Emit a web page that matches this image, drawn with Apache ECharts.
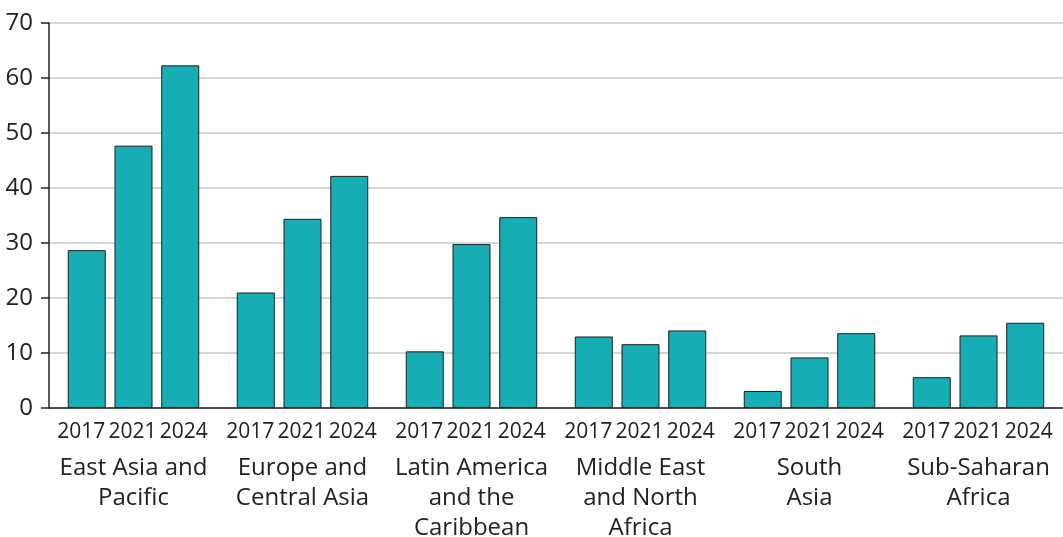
<!DOCTYPE html>
<html>
<head>
<meta charset="utf-8">
<script src="https://cdn.jsdelivr.net/npm/echarts@6/dist/echarts.min.js"></script>
<style>
  html, body { margin: 0; padding: 0; background: #fff; }
  #chart { width: 1063px; height: 537px; }
</style>
</head>
<body>
<div id="chart"></div>
<script>
const years = ['2017', '2021', '2024'];
const regions = [
  'East Asia and\nPacific',
  'Europe and\nCentral Asia',
  'Latin America\nand the\nCaribbean',
  'Middle East\nand North\nAfrica',
  'South\nAsia',
  'Sub-Saharan\nAfrica'
];
const values2017 = [28.7, 21.0, 10.3, 13.0, 3.1, 5.6];
const values2021 = [47.7, 34.4, 29.8, 11.6, 9.2, 13.2];
const values2024 = [62.3, 42.2, 34.7, 14.1, 13.6, 15.5];
const yTicks = [0, 10, 20, 30, 40, 50, 60, 70];

const seriesValues = [values2017, values2021, values2024];
const labelOffsets = [-5.5, -1, 3.5];
const FONT = '"Open Sans", "Noto Sans", sans-serif';
const TEXT = '#222';

const chart = echarts.init(document.getElementById('chart'), null, { renderer: 'canvas' });
chart.setOption({
  animation: false,
  backgroundColor: '#fff',
  textStyle: { fontFamily: FONT, color: TEXT },
  grid: { left: 49, right: 0, top: 23, bottom: 129, containLabel: false, outerBoundsMode: 'none' },
  xAxis: {
    type: 'category',
    data: regions,
    axisLine: { show: true, lineStyle: { color: '#222', width: 1.5 } },
    axisTick: { show: false },
    axisLabel: {
      interval: 0,
      margin: 45,
      fontSize: 24,
      lineHeight: 30,
      color: TEXT,
      fontFamily: FONT,
      align: 'center',
      hideOverlap: false
    }
  },
  yAxis: {
    type: 'value',
    min: yTicks[0],
    max: yTicks[yTicks.length - 1],
    interval: 10,
    axisLine: { show: true, lineStyle: { color: '#222', width: 1.5 } },
    axisTick: { show: true, length: 8, lineStyle: { color: '#222', width: 1.5 } },
    axisLabel: { fontSize: 24, color: TEXT, margin: 16, fontFamily: FONT },
    splitLine: { show: true, lineStyle: { color: '#c8c8c8', width: 1.5 } }
  },
  series: years.map((y, i) => ({
    name: y,
    type: 'bar',
    data: seriesValues[i],
    barWidth: 38,
    barGap: '23%',
    itemStyle: { color: '#17adb4', borderColor: '#1e1e1e', borderWidth: 1 },
    label: {
      show: true,
      position: 'bottom',
      distance: 14,
      offset: [labelOffsets[i], 0],
      formatter: y,
      fontSize: 21,
      lineHeight: 21,
      color: TEXT,
      fontFamily: FONT
    }
  }))
});
</script>
</body>
</html>
